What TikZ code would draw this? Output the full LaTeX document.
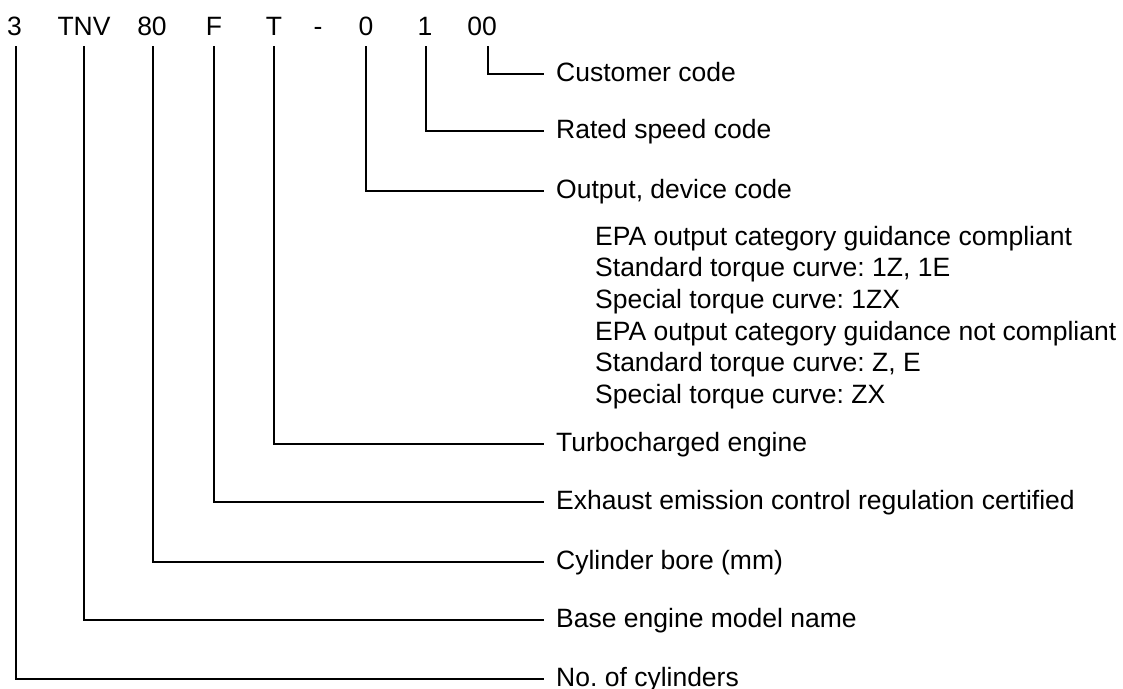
\documentclass[tikz,border=0pt]{standalone}
\usepackage{fontspec}
\setmainfont{Liberation Sans}
\frenchspacing
\begin{document}
\begin{tikzpicture}[x=1pt,y=-1pt,
  txt/.style={font=\fontsize{26.5}{31}\selectfont},
  conn/.style={line width=2pt},
  code/.style={txt,anchor=base,inner sep=0pt},
  lab/.style={txt,anchor=west,inner xsep=12pt,inner ysep=0pt,text height=19pt,text depth=5pt},
  desc/.style={txt,anchor=base west,inner sep=0pt}]
\useasboundingbox (0,0) rectangle (1123,688);
% code row
\node[code] (c3)   at (14.5,35) {3};
\node[code] (cTNV) at (84,35)   {TNV};
\node[code] (c80)  at (152,35)  {80};
\node[code] (cF)   at (214,35)  {F};
\node[code] (cT)   at (274,35)  {T};
\node[code] (cdash) at (318,35) {-};
\node[code] (c0)   at (366,35)  {0};
\node[code] (c1)   at (425,35)  {1};
\node[code] (c00)  at (482,35)  {00};
% line tops
\coordinate (v3)   at (16,46);
\coordinate (vTNV) at (84,46);
\coordinate (v80)  at (153,46);
\coordinate (vF)   at (214,46);
\coordinate (vT)   at (274,46);
\coordinate (v0)   at (366,46);
\coordinate (v1)   at (426,46);
\coordinate (v00)  at (487.5,46);
% labels
\node[lab] (l00)  at (544,74)  {Customer code};
\node[lab] (l1)   at (544,131) {Rated speed code};
\node[lab] (l0)   at (544,191) {Output, device code};
\node[lab] (lT)   at (544,444) {Turbocharged engine};
\node[lab] (lF)   at (544,502) {Exhaust emission control regulation certified};
\node[lab] (l80)  at (544,562) {Cylinder bore (mm)};
\node[lab] (lTNV) at (544,620) {Base engine model name};
\node[lab] (l3)   at (544,679) {No. of cylinders};
% description block
\node[desc] (d1) at (595,245)   {EPA output category guidance compliant};
\node[desc] (d2) at (595,276.7) {Standard torque curve: 1Z, 1E};
\node[desc] (d3) at (595,308.4) {Special torque curve: 1ZX};
\node[desc] (d4) at (595,340.1) {EPA output category guidance not compliant};
\node[desc] (d5) at (595,371.8) {Standard torque curve: Z, E};
\node[desc] (d6) at (595,403.5) {Special torque curve: ZX};
% connectors
\draw[conn] (v00)  |- (l00.west);
\draw[conn] (v1)   |- (l1.west);
\draw[conn] (v0)   |- (l0.west);
\draw[conn] (vT)   |- (lT.west);
\draw[conn] (vF)   |- (lF.west);
\draw[conn] (v80)  |- (l80.west);
\draw[conn] (vTNV) |- (lTNV.west);
\draw[conn] (v3)   |- (l3.west);
\end{tikzpicture}
\end{document}
